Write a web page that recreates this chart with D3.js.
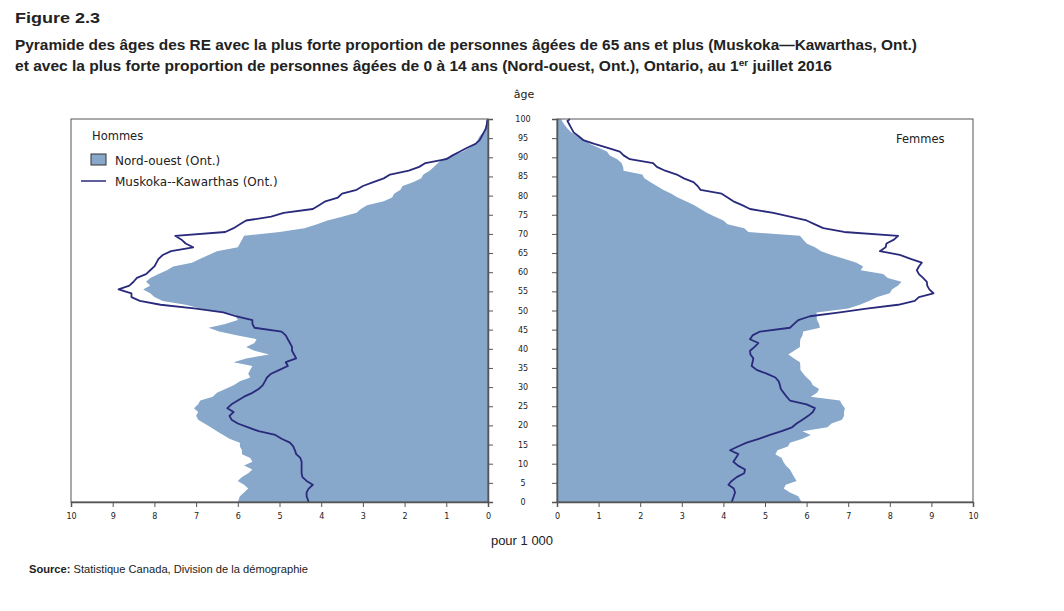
<!DOCTYPE html>
<html>
<head>
<meta charset="utf-8">
<script src="https://cdn.jsdelivr.net/npm/d3@7"></script>
<style>
  body { margin: 0; background: #fff; }
  text { fill: #222; }
</style>
</head>
<body>
<div id="chart"></div>
<script>
var width = 1064,
    height = 611;

// ages 0..100
var ages = d3.range(0, 101);

// pour 1 000, Nord-ouest (Ont.) — hommes
var nordOuestHommes = [
  6.0, 5.95, 5.85, 5.75, 5.85, 6.0, 5.9, 5.75, 5.65, 5.85,
  5.65, 5.7, 5.9, 5.9, 5.95, 5.95, 6.2, 6.35, 6.5, 6.65,
  6.8, 6.95, 7.0, 6.95, 7.05, 6.95, 6.9, 6.6, 6.5, 6.3,
  6.1, 5.95, 5.7, 5.75, 5.7, 5.65, 6.1, 5.8, 5.25, 5.6,
  5.8, 5.6, 5.55, 6.0, 6.45, 6.7, 6.3, 6.0, 6.05, 6.35,
  6.9, 7.25, 7.8, 8.0, 8.1, 8.27, 8.1, 8.2, 8.1, 7.9,
  7.7, 7.55, 7.1, 6.9, 6.7, 6.5, 6.0, 5.95, 5.9, 5.85,
  5.0, 4.4, 4.1, 3.85, 3.5, 3.15, 3.05, 2.9, 2.5, 2.3,
  2.25, 2.1, 2.05, 1.8, 1.6, 1.55, 1.4, 1.3, 1.2, 1.1,
  0.85, 0.6, 0.45, 0.3, 0.25, 0.2, 0.12, 0.08, 0.05, 0.03,
  0.02
];

// Muskoka--Kawarthas (Ont.) — hommes
var muskokaHommes = [
  4.3, 4.35, 4.35, 4.3, 4.2, 4.35, 4.45, 4.47, 4.47, 4.47,
  4.47, 4.5, 4.6, 4.63, 4.67, 4.75, 4.95, 5.1, 5.5, 5.75,
  6.0, 6.15, 6.2, 6.1, 6.25, 6.15, 6.0, 5.85, 5.65, 5.5,
  5.4, 5.35, 5.3, 5.2, 5.0, 4.8, 4.85, 4.6, 4.65, 4.7,
  4.7, 4.75, 4.8, 4.85, 4.95, 5.6, 5.65, 5.65, 6.05, 6.35,
  7.0, 7.85, 8.35, 8.55, 8.55, 8.86, 8.6, 8.5, 8.42, 8.2,
  8.1, 8.0, 7.95, 7.9, 7.8, 7.6, 7.07, 7.25, 7.35, 7.5,
  6.3, 6.1, 5.95, 5.8, 5.2, 4.9, 4.2, 4.05, 3.9, 3.6,
  3.5, 3.15, 3.0, 2.75, 2.5, 2.35, 1.9, 1.65, 1.5, 1.0,
  0.85, 0.67, 0.5, 0.3, 0.2, 0.15, 0.1, 0.05, 0.03, 0.02,
  0.0
];

// Nord-ouest (Ont.) — femmes
var nordOuestFemmes = [
  5.88, 5.8, 5.6, 5.45, 5.5, 5.76, 5.7, 5.65, 5.6, 5.5,
  5.44, 5.4, 5.25, 5.3, 5.55, 5.6, 5.9, 6.1, 5.9, 6.5,
  6.6, 6.85, 6.9, 6.9, 6.92, 6.85, 6.8, 6.1, 6.25, 6.3,
  6.15, 6.1, 6.0, 5.92, 5.85, 5.85, 5.84, 5.7, 5.56, 5.7,
  5.84, 5.84, 5.85, 5.9, 5.92, 6.32, 6.3, 6.25, 6.24, 6.24,
  7.0, 7.28, 7.5, 7.7, 8.0, 8.05, 8.2, 8.28, 7.95, 7.84,
  7.3, 7.36, 7.2, 6.9, 6.6, 6.35, 6.2, 6.0, 5.92, 5.84,
  4.6, 4.5, 4.1, 4.0, 3.8, 3.6, 3.45, 3.3, 3.1, 2.9,
  2.75, 2.55, 2.4, 2.25, 2.1, 2.05, 1.6, 1.59, 1.55, 1.45,
  1.27, 1.2, 1.0, 0.8, 0.65, 0.5, 0.35, 0.25, 0.18, 0.12,
  0.1
];

// Muskoka--Kawarthas (Ont.) — femmes
var muskokaFemmes = [
  4.2, 4.25, 4.28, 4.25, 4.12, 4.2, 4.32, 4.5, 4.52, 4.35,
  4.24, 4.3, 4.36, 4.16, 4.35, 4.56, 4.85, 5.12, 5.4, 5.65,
  5.76, 5.9, 6.04, 6.15, 6.2, 6.0, 5.6, 5.52, 5.45, 5.38,
  5.36, 5.33, 5.25, 5.04, 4.8, 4.68, 4.7, 4.72, 4.65, 4.64,
  4.75, 4.84, 4.64, 4.7, 4.88, 5.6, 5.7, 5.8, 6.08, 6.8,
  7.44, 8.2, 8.6, 8.7, 9.05, 8.95, 8.9, 8.89, 8.8, 8.7,
  8.65, 8.7, 8.77, 8.5, 8.24, 7.76, 7.9, 7.92, 8.1, 8.2,
  6.9, 6.4, 6.2, 6.0, 5.6, 5.2, 4.64, 4.45, 4.24, 4.1,
  3.96, 3.45, 3.38, 3.28, 3.05, 2.88, 2.6, 2.4, 2.31, 1.75,
  1.6, 1.51, 1.2, 0.9, 0.63, 0.52, 0.4, 0.35, 0.3, 0.25,
  0.31
];

var xTicks = d3.range(0, 11);
var ageTicks = d3.range(0, 101, 5);

var fillColor = "#87a8cb",
    lineColor = "#2a2a7c",
    axisColor = "#555";

var svg = d3.select("#chart").append("svg")
  .attr("width", width)
  .attr("height", height)
  .style("font-family", "'DejaVu Sans', Verdana, sans-serif");

// titles
var narrow = "'Liberation Sans Narrow', 'Arial Narrow', 'Liberation Sans', Arial, sans-serif";
svg.append("text")
  .attr("x", 15).attr("y", 23)
  .style("font-family", narrow).style("font-weight", "bold").style("font-size", "14px")
  .attr("textLength", 85).attr("lengthAdjust", "spacingAndGlyphs")
  .text("Figure 2.3");
svg.append("text")
  .attr("x", 15).attr("y", 50)
  .style("font-family", narrow).style("font-weight", "bold").style("font-size", "14px")
  .attr("textLength", 902).attr("lengthAdjust", "spacingAndGlyphs")
  .text("Pyramide des âges des RE avec la plus forte proportion de personnes âgées de 65 ans et plus (Muskoka—Kawarthas, Ont.)");
var t2 = svg.append("text")
  .attr("x", 15).attr("y", 71)
  .style("font-family", narrow).style("font-weight", "bold").style("font-size", "14px")
  .attr("textLength", 817).attr("lengthAdjust", "spacingAndGlyphs");
t2.append("tspan").text("et avec la plus forte proportion de personnes âgées de 0 à 14 ans (Nord-ouest, Ont.), Ontario, au 1");
t2.append("tspan").attr("dy", -5).style("font-size", "9px").text("er");
t2.append("tspan").attr("dy", 5).text(" juillet 2016");

var plotTop = 119, plotBottom = 502;

var y = d3.scaleLinear().domain([0, 100]).range([plotBottom, plotTop]);
var xL = d3.scaleLinear().domain([10, 0]).range([71, 488]);
var xR = d3.scaleLinear().domain([0, 10]).range([557, 973]);

// age d is drawn at the middle of its one-year band, ends pinned to the axis limits
function ageY(d) {
  if (d === 0) return y(0);
  if (d === 100) return y(100);
  return y(d + 0.5);
}

function panel(x, fillVals, lineVals, side) {
  var g = svg.append("g");
  var id = "clip-" + side;
  var x0 = Math.min(x.range()[0], x.range()[1]),
      w = Math.abs(x.range()[1] - x.range()[0]);
  svg.append("clipPath").attr("id", id)
    .append("rect")
    .attr("x", x0)
    .attr("y", plotTop - 3)
    .attr("width", w)
    .attr("height", plotBottom - plotTop + 3);

  var area = d3.area()
    .y(function(d) { return ageY(d); })
    .x0(function() { return x(0); })
    .x1(function(d, i) { return x(fillVals[i]); });

  g.append("path")
    .datum(ages)
    .attr("clip-path", "url(#" + id + ")")
    .attr("d", area)
    .attr("fill", fillColor);

  var line = d3.line()
    .y(function(d) { return ageY(d); })
    .x(function(d, i) { return x(lineVals[i]); });

  g.append("path")
    .datum(ages)
    .attr("clip-path", "url(#" + id + ")")
    .attr("d", line)
    .attr("fill", "none")
    .attr("stroke", lineColor)
    .attr("stroke-width", 1.8)
    .attr("stroke-linejoin", "round");

  // frame
  g.append("rect")
    .attr("x", x0)
    .attr("y", plotTop)
    .attr("width", w)
    .attr("height", plotBottom - plotTop)
    .attr("fill", "none")
    .attr("stroke", axisColor)
    .attr("stroke-width", 1);

  // bottom axis
  var bx = d3.axisBottom(x).tickValues(xTicks).tickSize(5).tickPadding(6).tickFormat(d3.format("d"));
  var ax = svg.append("g")
    .attr("transform", "translate(0," + plotBottom + ")")
    .call(bx);
  ax.select(".domain").attr("stroke", axisColor).attr("stroke-width", 1.5);
  ax.selectAll(".tick line").attr("stroke", axisColor);
  ax.selectAll("text").style("font-size", "8px").style("font-family", "'DejaVu Sans', sans-serif").attr("fill", "#222");

  // age axis ticks (outside toward middle)
  var ay = (side === "left" ? d3.axisRight(y) : d3.axisLeft(y))
    .tickValues(ageTicks).tickSize(5).tickFormat("");
  var ag = svg.append("g")
    .attr("transform", "translate(" + x(0) + ",0)")
    .call(ay);
  ag.select(".domain").attr("stroke", axisColor).attr("stroke-width", 1.5);
  ag.selectAll(".tick line").attr("stroke", axisColor);
}

panel(xL, nordOuestHommes, muskokaHommes, "left");
panel(xR, nordOuestFemmes, muskokaFemmes, "right");

// age labels in the middle
svg.append("g").selectAll("text")
  .data(ageTicks).enter()
  .append("text")
  .attr("x", 523)
  .attr("y", function(d) { return y(d) + 3; })
  .attr("text-anchor", "middle")
  .style("font-size", "8px")
  .text(function(d) { return d; });

svg.append("text")
  .attr("x", 524).attr("y", 98)
  .attr("text-anchor", "middle")
  .style("font-size", "11px")
  .text("âge");

svg.append("text")
  .attr("x", 522).attr("y", 545)
  .attr("text-anchor", "middle")
  .style("font-family", narrow)
  .style("font-size", "13px")
  .text("pour 1 000");

// legend + panel labels
svg.append("text").attr("x", 92).attr("y", 140).style("font-size", "11.5px").text("Hommes");
svg.append("text").attr("x", 896).attr("y", 143).style("font-size", "11.5px").text("Femmes");
svg.append("rect")
  .attr("x", 91).attr("y", 154).attr("width", 15).attr("height", 11)
  .attr("fill", fillColor).attr("stroke", "#333").attr("stroke-width", 1);
svg.append("text").attr("x", 115).attr("y", 164.5).style("font-size", "12px").text("Nord-ouest (Ont.)");
svg.append("line")
  .attr("x1", 81).attr("x2", 106).attr("y1", 181).attr("y2", 181)
  .attr("stroke", lineColor).attr("stroke-width", 1.5);
svg.append("text").attr("x", 115).attr("y", 185.5).style("font-size", "12px").text("Muskoka--Kawarthas (Ont.)");

// source
var src = svg.append("text")
  .attr("x", 29).attr("y", 573)
  .style("font-family", narrow)
  .style("font-size", "11px")
  .attr("textLength", 279).attr("lengthAdjust", "spacingAndGlyphs");
src.append("tspan").style("font-weight", "bold").text("Source:");
src.append("tspan").text(" Statistique Canada, Division de la démographie");
</script>
</body>
</html>
